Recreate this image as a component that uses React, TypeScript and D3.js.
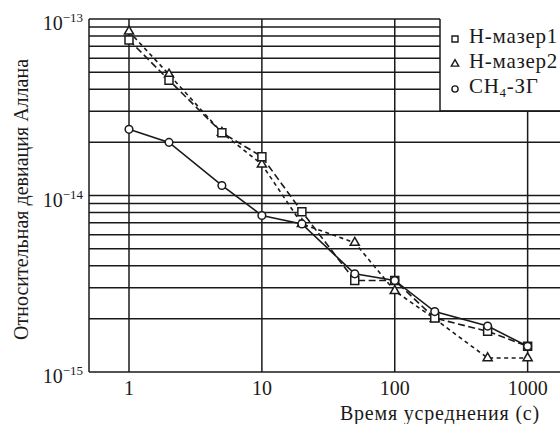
import React, { useEffect, useRef } from "react";
import * as d3 from "d3";

const taus = [1, 2, 5, 10, 20, 50, 100, 200, 500, 1000];
const maser1 = [7.6e-14, 4.5e-14, 2.27e-14, 1.66e-14, 8.1e-15, 3.3e-15, 3.3e-15, 2.02e-15, 1.7e-15, 1.4e-15];
const maser2 = [8.5e-14, 4.85e-14, 2.27e-14, 1.5e-14, 6.9e-15, 5.4e-15, 2.88e-15, 2.0e-15, 1.2e-15, 1.2e-15];
const ch4 = [2.37e-14, 2.0e-14, 1.14e-14, 7.7e-15, 6.9e-15, 3.6e-15, 3.3e-15, 2.2e-15, 1.82e-15, 1.4e-15];
const xTicks = [1, 10, 100, 1000];
const yTickExp = [-13, -14, -15];
const legendLabels = ["H-мазер1", "H-мазер2", "CH4-ЗГ"];

export default function App() {
  const svgRef = useRef<SVGSVGElement>(null);

  useEffect(() => {
    const svg = d3.select(svgRef.current);
    svg.selectAll("*").remove();

    const width = 560;
    const height = 424;
    const margin = { top: 19, right: -10, bottom: 52, left: 89 };
    const left = margin.left;
    const top = margin.top;
    const right = width - margin.right;
    const bottom = height - margin.bottom;
    const font = "'Liberation Serif', 'Times New Roman', serif";
    const ink = "#1a1a1a";

    // one decade ~133px, tau=1 sits at x=129
    const dec = (129 - left) / Math.log10(2);
    const x = d3
      .scaleLog()
      .domain([0.5, Math.pow(10, (right - 129) / dec)])
      .range([left, right]);
    const y = d3.scaleLog().domain([1e-15, 1e-13]).range([bottom, top]);

    const legendX = 440;
    const legendBottom = 111;

    // horizontal grid
    const yGrid: number[] = [];
    [-15, -14].forEach((e) => {
      for (let m = 1; m <= 9; m++) yGrid.push(m * Math.pow(10, e));
    });
    yGrid.push(1e-13);
    svg
      .append("g")
      .selectAll("line")
      .data(yGrid)
      .join("line")
      .attr("x1", left)
      .attr("x2", (d) => (y(d) < legendBottom ? legendX : right))
      .attr("y1", (d) => y(d))
      .attr("y2", (d) => y(d))
      .attr("stroke", ink)
      .attr("stroke-width", 1.5);

    // vertical grid
    svg
      .append("g")
      .selectAll("line")
      .data(xTicks)
      .join("line")
      .attr("x1", (d) => x(d))
      .attr("x2", (d) => x(d))
      .attr("y1", (d) => (x(d) > legendX ? legendBottom : top))
      .attr("y2", bottom)
      .attr("stroke", ink)
      .attr("stroke-width", 1.5);

    // left axis line and legend box
    svg.append("line").attr("x1", left).attr("x2", left).attr("y1", top).attr("y2", bottom).attr("stroke", ink).attr("stroke-width", 1.5);
    svg.append("line").attr("x1", legendX).attr("x2", legendX).attr("y1", top).attr("y2", legendBottom).attr("stroke", ink).attr("stroke-width", 1.5);
    svg.append("line").attr("x1", legendX).attr("x2", right).attr("y1", legendBottom).attr("y2", legendBottom).attr("stroke", ink).attr("stroke-width", 1.5);

    // x tick labels
    svg
      .append("g")
      .selectAll("text")
      .data(xTicks)
      .join("text")
      .attr("x", (d) => x(d))
      .attr("y", bottom + 23)
      .attr("text-anchor", "middle")
      .attr("font-family", font)
      .attr("font-size", 20)
      .attr("fill", ink)
      .text((d) => String(d));

    // y tick labels
    const yl = svg
      .append("g")
      .selectAll("text")
      .data(yTickExp)
      .join("text")
      .attr("x", 83)
      .attr("y", (d) => y(Math.pow(10, d)) + 11)
      .attr("text-anchor", "end")
      .attr("font-family", font)
      .attr("font-size", 20)
      .attr("fill", ink);
    yl.append("tspan").text("10");
    yl.append("tspan").attr("dy", -8).attr("font-size", 13).text((d) => "\u2212" + Math.abs(d));

    // axis titles
    svg
      .append("text")
      .attr("x", 540)
      .attr("y", 420)
      .attr("text-anchor", "end")
      .attr("font-family", font)
      .attr("font-size", 20)
      .attr("letter-spacing", 0.8)
      .attr("fill", ink)
      .text("Время усреднения (с)");
    svg
      .append("text")
      .attr("transform", `translate(28,${(40 + 359) / 2}) rotate(-90)`)
      .attr("text-anchor", "middle")
      .attr("font-family", font)
      .attr("font-size", 20)
      .attr("fill", ink)
      .text("Относительная девиация Аллана");

    const series = [
      { values: maser2, dash: "4,3.5", marker: "triangle" },
      { values: maser1, dash: "7,3.5", marker: "square" },
      { values: ch4, dash: null, marker: "circle" },
    ];

    const line = d3
      .line<number>()
      .x((_, i) => x(taus[i]))
      .y((d) => y(d));

    series.forEach((s) => {
      svg
        .append("path")
        .datum(s.values)
        .attr("d", line)
        .attr("fill", "none")
        .attr("stroke", ink)
        .attr("stroke-width", 1.6)
        .attr("stroke-dasharray", s.dash);
    });

    const symbolFor = (m: string, size: number) =>
      d3
        .symbol()
        .type(m === "square" ? d3.symbolSquare : m === "triangle" ? d3.symbolTriangle : d3.symbolCircle)
        .size(size)();

    series.forEach((s) => {
      const sz = s.marker === "square" ? 64 : s.marker === "triangle" ? 36 : 46;
      svg
        .append("g")
        .selectAll("path")
        .data(s.values)
        .join("path")
        .attr("d", symbolFor(s.marker, sz))
        .attr("transform", (d, i) => `translate(${x(taus[i])},${y(d)})`)
        .attr("fill", "white")
        .attr("stroke", ink)
        .attr("stroke-width", 1.5);
    });

    // legend
    const legendMarkers = ["square", "triangle", "circle"];
    legendLabels.forEach((lab, i) => {
      const base = 43 + i * 25;
      svg
        .append("path")
        .attr("d", symbolFor(legendMarkers[i], legendMarkers[i] === "triangle" ? 24 : legendMarkers[i] === "square" ? 36 : 30))
        .attr("transform", `translate(455,${base - 4})`)
        .attr("fill", "white")
        .attr("stroke", ink)
        .attr("stroke-width", 1.4);
      const t = svg
        .append("text")
        .attr("x", 469)
        .attr("y", base)
        .attr("font-family", font)
        .attr("font-size", 21)
        .attr("letter-spacing", 0.7)
        .attr("fill", ink);
      if (lab.startsWith("CH4")) {
        t.append("tspan").text("CH");
        t.append("tspan").attr("font-size", 13).attr("dy", 4).text("4");
        t.append("tspan").attr("dy", -4).text("-ЗГ");
      } else {
        t.text(lab);
      }
    });
  }, []);

  return <svg ref={svgRef} width={560} height={424} style={{ position: "absolute", left: 0, top: 0 }}></svg>;
}
